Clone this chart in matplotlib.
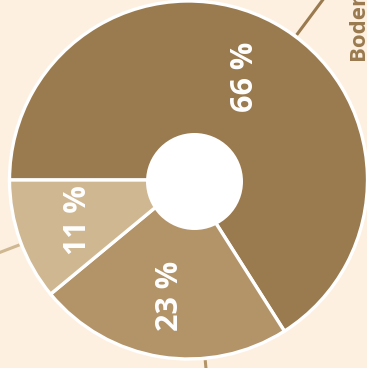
import numpy as np
import matplotlib
matplotlib.use("Agg")
import matplotlib.pyplot as plt
from matplotlib.patches import Circle

shares = [66, 23, 11]
share_labels = ["66 %", "23 %", "11 %"]
slice_colors = ["#9a7a4f", "#b39469", "#cfb791"]
leader_colors = ["#9a7a4f", "#b39469", "#cfb791"]
leader_angles = [53.3, -84.7, -159.0]
callout = "Boden"

bg = "#fdf0e0"
cx, cy, r = 188.5, 188, 179

fig = plt.figure(figsize=(3.67, 3.68), dpi=100)
fig.patch.set_facecolor(bg)
ax = fig.add_axes([0, 0, 1, 1])
ax.set_facecolor(bg)
ax.set_xlim(0, 367)
ax.set_ylim(0, 368)
ax.set_aspect("equal")
ax.axis("off")

# leader lines (behind the pie)
for ang, col in zip(leader_angles, leader_colors):
    a = np.radians(ang)
    ax.plot([cx + 181 * np.cos(a), cx + 260 * np.cos(a)],
            [cy + 181 * np.sin(a), cy + 260 * np.sin(a)],
            color=col, lw=2.2, solid_capstyle="butt", zorder=1)

wedges, texts, autotexts = ax.pie(
    shares, colors=slice_colors, startangle=180, counterclock=False,
    center=(cx, cy), radius=r, labels=None,
    autopct=lambda p: "", pctdistance=0.655,
    wedgeprops=dict(edgecolor="white", linewidth=2.4, zorder=2))
for t, lab in zip(autotexts, share_labels):
    t.set_text(lab)
    t.set_rotation(90)
    t.set_color("white")
    t.set_fontsize(22)
    t.set_fontweight("bold")
    t.set_family("Open Sans")
    t.set_zorder(5)

ax.add_patch(Circle((194.5, 186.5), 48.5, facecolor="white", edgecolor="none", zorder=4))

ax.text(358, 308, callout, rotation=90, ha="center", va="bottom",
        fontsize=16, fontweight="bold", family="Open Sans", color="#9a7a4f")

ax.set_xlim(0, 367)
ax.set_ylim(0, 368)
fig.savefig("out.png", dpi=100, facecolor=bg)
